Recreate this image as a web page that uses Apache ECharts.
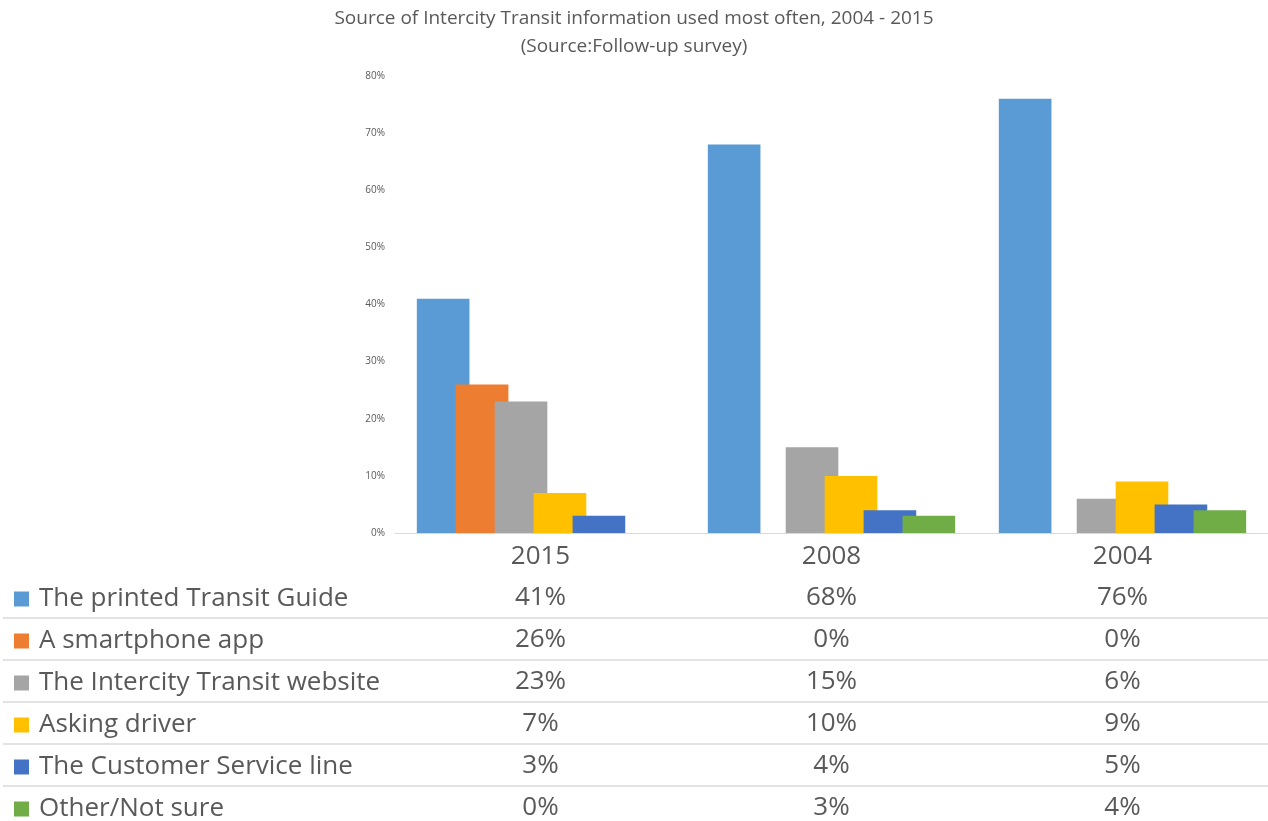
<!DOCTYPE html>
<html>
<head>
<meta charset="utf-8">
<script src="https://cdn.jsdelivr.net/npm/echarts@6/dist/echarts.min.js"></script>
<style>
  html, body { margin: 0; padding: 0; background: #fff; }
  #chart { width: 1268px; height: 821px; }
</style>
</head>
<body>
<div id="chart"></div>
<script>
const categories = ['2015', '2008', '2004'];
const seriesNames = [
  'The printed Transit Guide',
  'A smartphone app',
  'The Intercity Transit website',
  'Asking driver',
  'The Customer Service line',
  'Other/Not sure'
];
const printedGuide = [41, 68, 76];
const smartphoneApp = [26, 0, 0];
const website = [23, 15, 6];
const askingDriver = [7, 10, 9];
const customerService = [3, 4, 5];
const otherNotSure = [0, 3, 4];
const seriesValues = [printedGuide, smartphoneApp, website, askingDriver, customerService, otherNotSure];
const yTicks = [0, 10, 20, 30, 40, 50, 60, 70, 80];
const colors = ['#5B9BD5', '#ED7D31', '#A5A5A5', '#FFC000', '#4472C4', '#70AD47'];

const font = '"Open Sans", "Noto Sans", sans-serif';
const textColor = '#595959';

const chart = echarts.init(document.getElementById('chart'), null, { renderer: 'canvas' });

const tableLinesY = [618, 660, 702, 744, 786];

const option = {
  animation: false,
  color: colors,
  textStyle: { fontFamily: font },
  title: {
    text: 'Source of Intercity Transit information used most often, 2004 - 2015\n(Source:Follow-up survey)',
    left: 'center',
    top: 0,
    textStyle: { fontFamily: font, fontSize: 19, fontWeight: 'normal', color: textColor, lineHeight: 28 }
  },
  legend: {
    orient: 'vertical',
    left: 9,
    top: 573,
    height: 270,
    itemWidth: 15,
    itemHeight: 15,
    itemGap: 0,
    icon: 'rect',
    data: seriesNames,
    selectedMode: false,
    textStyle: { fontFamily: font, fontSize: 26, color: textColor, lineHeight: 42, padding: [0, 0, 0, 5] }
  },
  grid: { left: 395, right: 0, top: 76, bottom: 286, containLabel: false },
  xAxis: {
    type: 'category',
    data: categories,
    axisLine: { show: true, lineStyle: { color: '#D9D9D9', width: 1 } },
    axisTick: { show: false },
    axisLabel: {
      margin: 4,
      interval: 0,
      formatter: function (val, idx) {
        const lines = ['{yr|' + val + '}'];
        seriesValues.forEach(arr => lines.push('{v|' + arr[idx] + '%}'));
        return lines.join('\n');
      },
      rich: {
        yr: { fontFamily: font, fontSize: 26, color: textColor, lineHeight: 40, align: 'center' },
        v: { fontFamily: font, fontSize: 26, color: textColor, lineHeight: 42, align: 'center' }
      }
    }
  },
  yAxis: {
    type: 'value',
    min: 0,
    max: 80,
    interval: 10,
    axisLine: { show: false },
    axisTick: { show: false },
    splitLine: { show: false },
    axisLabel: {
      fontFamily: font,
      fontSize: 10,
      color: textColor,
      margin: 10,
      formatter: v => yTicks.includes(v) ? v + '%' : ''
    }
  },
  series: seriesNames.map((name, i) => ({
    name: name,
    type: 'bar',
    data: seriesValues[i],
    barGap: '-26%',
    barCategoryGap: '15%',
    itemStyle: { color: colors[i] }
  })),
  graphic: tableLinesY.map(y => ({
    type: 'line',
    shape: { x1: 3, y1: y, x2: 1268, y2: y },
    style: { stroke: '#E3E3E3', lineWidth: 2 },
    silent: true
  }))
};

chart.setOption(option);
</script>
</body>
</html>
